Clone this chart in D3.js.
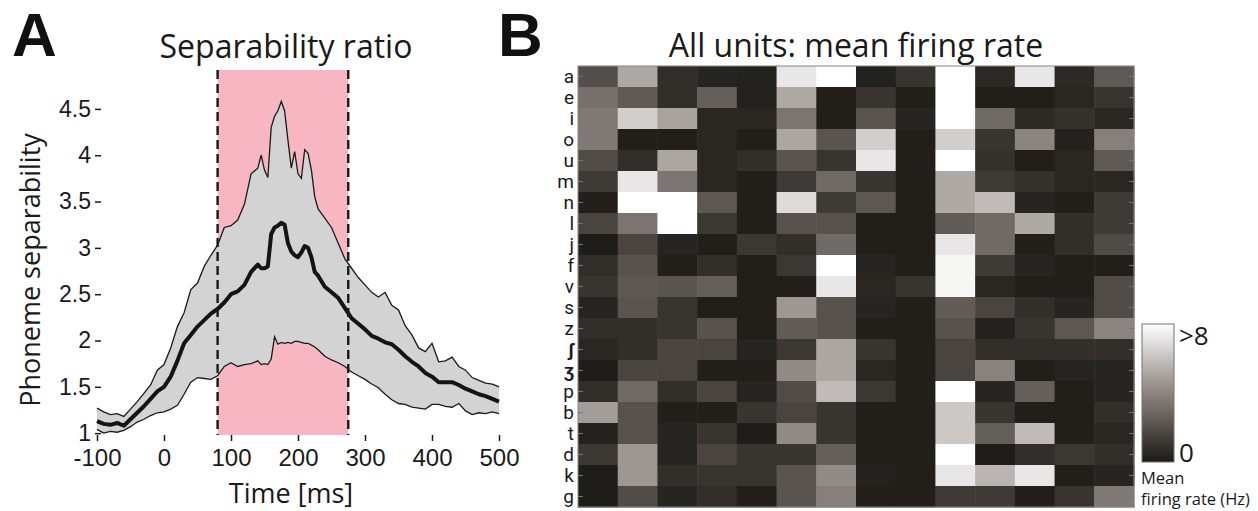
<!DOCTYPE html>
<html>
<head>
<meta charset="utf-8">
<script src="https://cdn.jsdelivr.net/npm/d3@7"></script>
<style>
  body { margin: 0; background: #fff; }
  svg { display: block; font-family: "Open Sans", sans-serif; }
  .axis text { fill: #1a1a1a; }
  .axis line { stroke: #1a1a1a; }
</style>
</head>
<body>
<div id="chart"></div>
<script>
// panel A: separability ratio over time
const times = [-100, -90, -80, -70, -60, -50, -40, -30, -20, -10, 0, 10, 20, 30, 40, 50, 60, 70, 80, 90,
  100, 110, 120, 130, 140, 145, 150, 155, 160, 165, 170, 175, 180, 185, 190, 195, 200, 205, 210, 215,
  220, 225, 230, 240, 250, 260, 270, 280, 290, 300, 310, 320, 330, 340, 350, 360, 370, 380, 390, 400,
  410, 420, 430, 440, 450, 460, 470, 480, 490, 500];
const upper = [1.27, 1.23, 1.20, 1.21, 1.18, 1.26, 1.34, 1.43, 1.52, 1.68, 1.74, 1.92, 2.15, 2.30, 2.55, 2.62, 2.80, 2.92, 3.03, 3.22,
  3.24, 3.30, 3.47, 3.80, 3.86, 4.00, 3.84, 3.76, 4.30, 4.42, 4.48, 4.58, 4.48, 4.16, 3.86, 4.04, 3.80, 3.75, 4.06, 4.02,
  3.84, 3.55, 3.42, 3.32, 3.22, 3.05, 2.88, 2.78, 2.68, 2.60, 2.52, 2.47, 2.52, 2.38, 2.33, 2.16, 2.06, 1.92, 1.88, 1.97,
  1.77, 1.78, 1.82, 1.72, 1.68, 1.60, 1.57, 1.54, 1.53, 1.50];
const meanSep = [1.13, 1.10, 1.09, 1.11, 1.08, 1.15, 1.22, 1.29, 1.37, 1.45, 1.50, 1.61, 1.78, 1.97, 2.06, 2.15, 2.22, 2.29, 2.34, 2.41,
  2.50, 2.53, 2.60, 2.74, 2.82, 2.78, 2.78, 2.80, 3.15, 3.22, 3.24, 3.27, 3.25, 3.05, 2.96, 2.92, 2.90, 2.95, 3.02, 3.00,
  2.90, 2.74, 2.70, 2.58, 2.52, 2.46, 2.35, 2.24, 2.18, 2.12, 2.05, 2.02, 1.98, 1.96, 1.90, 1.83, 1.77, 1.72, 1.65, 1.61,
  1.55, 1.55, 1.55, 1.52, 1.48, 1.45, 1.42, 1.40, 1.37, 1.34];
const lower = [1.04, 1.00, 1.02, 1.01, 1.03, 1.07, 1.12, 1.15, 1.19, 1.22, 1.23, 1.26, 1.30, 1.42, 1.55, 1.60, 1.59, 1.58, 1.62, 1.72,
  1.76, 1.72, 1.74, 1.75, 1.78, 1.74, 1.75, 1.74, 1.80, 2.04, 1.96, 1.98, 1.97, 1.98, 1.97, 1.99, 1.99, 1.98, 1.97, 1.97,
  1.95, 1.93, 1.90, 1.83, 1.79, 1.76, 1.72, 1.66, 1.62, 1.58, 1.53, 1.49, 1.42, 1.36, 1.32, 1.31, 1.28, 1.27, 1.26, 1.31,
  1.31, 1.29, 1.28, 1.32, 1.24, 1.20, 1.22, 1.21, 1.23, 1.21];
const window_ms = [80, 275];
const xTicks = [-100, 0, 100, 200, 300, 400, 500];
const yTicks = [1, 1.5, 2, 2.5, 3, 3.5, 4, 4.5];

// panel B: mean firing rate (Hz) per phoneme x unit
const phonemes = ["a", "e", "i", "o", "u", "m", "n", "l", "j", "f", "v", "s", "z", "ʃ", "ʒ", "p", "b", "t", "d", "k", "g"];
const units = d3.range(1, 15);
const rates = [
  [2.0, 5.2, 0.8, 0.4, 0.3, 7.2, 8.6, 0.3, 1.0, 9.1, 0.6, 7.2, 0.6, 2.4],
  [3.2, 2.4, 0.8, 2.6, 0.3, 5.2, 0.2, 1.0, 0.2, 9.4, 0.2, 0.2, 0.5, 1.0],
  [3.6, 6.4, 5.0, 0.5, 0.5, 3.4, 0.2, 2.2, 0.4, 8.8, 3.0, 0.6, 0.9, 0.5],
  [3.6, 0.2, 0.2, 0.5, 0.2, 5.1, 2.2, 6.4, 0.2, 6.4, 1.0, 4.0, 0.3, 3.8],
  [1.9, 0.8, 5.1, 0.5, 0.8, 2.2, 1.0, 7.2, 0.2, 8.7, 0.9, 0.2, 0.5, 2.4],
  [1.2, 7.2, 3.4, 0.5, 0.2, 1.2, 3.0, 1.0, 0.2, 5.2, 1.2, 0.9, 0.5, 0.5],
  [0.2, 9.0, 8.8, 2.3, 0.2, 6.8, 1.2, 2.3, 0.2, 5.2, 5.8, 0.4, 0.2, 1.2],
  [1.6, 3.4, 8.9, 1.1, 0.2, 2.1, 2.1, 0.2, 0.2, 2.5, 3.0, 5.2, 0.8, 1.2],
  [0.1, 1.6, 0.4, 0.2, 1.1, 0.8, 3.0, 0.2, 0.2, 7.2, 3.0, 0.2, 0.8, 1.8],
  [0.8, 2.1, 0.2, 0.8, 0.2, 1.1, 8.5, 0.4, 0.2, 7.7, 1.2, 0.4, 0.2, 0.2],
  [1.0, 2.3, 2.2, 2.6, 0.2, 0.2, 7.2, 0.5, 1.0, 7.7, 0.5, 0.2, 0.2, 1.9],
  [0.4, 2.2, 1.0, 0.2, 0.2, 4.6, 2.1, 0.4, 0.2, 2.5, 1.6, 0.8, 0.4, 1.9],
  [0.8, 0.8, 1.0, 2.1, 0.2, 2.5, 2.1, 0.2, 0.2, 2.1, 0.3, 1.0, 2.3, 4.0],
  [0.5, 0.8, 1.6, 1.6, 0.4, 1.1, 5.1, 1.0, 0.2, 1.6, 0.8, 0.8, 0.8, 0.8],
  [0.1, 1.6, 1.6, 0.2, 0.2, 4.2, 5.1, 0.5, 0.2, 1.6, 3.9, 0.2, 0.4, 0.4],
  [0.8, 3.0, 0.8, 1.6, 0.4, 1.9, 5.8, 1.1, 0.2, 8.8, 0.4, 2.6, 0.2, 0.4],
  [4.8, 2.1, 0.2, 0.2, 1.0, 1.6, 1.0, 0.2, 0.2, 6.2, 1.0, 0.2, 0.2, 0.8],
  [0.3, 2.1, 0.4, 1.0, 0.1, 4.2, 1.0, 0.2, 0.2, 6.2, 2.6, 5.8, 0.2, 0.5],
  [1.1, 4.6, 0.4, 1.6, 1.0, 1.0, 2.6, 0.2, 0.2, 8.9, 0.1, 0.8, 1.1, 0.8],
  [0.1, 4.6, 0.8, 1.0, 1.0, 2.2, 4.2, 0.3, 0.2, 7.2, 5.6, 7.2, 0.2, 0.4],
  [0.1, 1.9, 0.4, 0.8, 0.2, 2.2, 3.8, 0.2, 0.2, 1.2, 1.2, 0.2, 1.0, 3.6]
];
const rateMax = 8;

const W = 1258, H = 511;
const svg = d3.select("#chart").append("svg")
    .attr("width", W)
    .attr("height", H);

/**
 * Panel A
 */
const xScale = d3.scaleLinear().domain([-100, 500]).range([97, 499]);
const yScale = d3.scaleLinear().domain([0.98, 4.92]).range([435, 70]);

const series = times.map((t, i) => ({t: t, hi: upper[i], mid: meanSep[i], lo: lower[i]}));

const gA = svg.append("g");

gA.append("rect")
    .attr("x", xScale(window_ms[0]))
    .attr("y", yScale(4.92))
    .attr("width", xScale(window_ms[1]) - xScale(window_ms[0]))
    .attr("height", yScale(0.98) - yScale(4.92))
    .attr("fill", "#f8b6c3");

const area = d3.area()
    .x(d => xScale(d.t))
    .y0(d => yScale(d.lo))
    .y1(d => yScale(d.hi));

gA.append("path")
    .datum(series)
    .attr("d", area)
    .attr("fill", "#d3d3d3");

const lineOf = key => d3.line().x(d => xScale(d.t)).y(d => yScale(d[key]));

gA.append("path").datum(series).attr("d", lineOf("hi"))
    .attr("fill", "none").attr("stroke", "#1a1a1a").attr("stroke-width", 1.3);
gA.append("path").datum(series).attr("d", lineOf("lo"))
    .attr("fill", "none").attr("stroke", "#1a1a1a").attr("stroke-width", 1.3);
gA.append("path").datum(series).attr("d", lineOf("mid"))
    .attr("fill", "none").attr("stroke", "#141414").attr("stroke-width", 4)
    .attr("stroke-linejoin", "round");

gA.selectAll("line.win")
    .data(window_ms)
    .enter()
    .append("line")
    .attr("class", "win")
    .attr("x1", d => xScale(d)).attr("x2", d => xScale(d))
    .attr("y1", yScale(4.92)).attr("y2", yScale(0.98))
    .attr("stroke", "#1a1a1a")
    .attr("stroke-width", 2.4)
    .attr("stroke-dasharray", "9,5");

const xAxis = gA.append("g")
    .attr("class", "axis")
    .attr("transform", `translate(0,435)`)
    .call(d3.axisBottom(xScale).tickValues(xTicks).tickFormat(d => String(d))
        .tickSizeInner(6).tickSizeOuter(0).tickPadding(8))
    .call(g => g.select(".domain").remove());
xAxis.selectAll("text").attr("font-size", 24);
xAxis.selectAll("line").attr("stroke-width", 1.5);

const yAxis = gA.append("g")
    .attr("class", "axis")
    .attr("transform", `translate(95,0)`)
    .call(d3.axisLeft(yScale).tickValues(yTicks).tickFormat(d => String(d))
        .tickSizeInner(-6).tickSizeOuter(0).tickPadding(4))
    .call(g => g.select(".domain").remove());
yAxis.selectAll("text").attr("font-size", 23);
yAxis.selectAll("line").attr("stroke-width", 1.5);

gA.append("text")
    .attr("x", 286).attr("y", 58)
    .attr("text-anchor", "middle")
    .attr("font-size", 32)
    .attr("fill", "#1a1a1a")
    .text("Separability ratio");

gA.append("text")
    .attr("x", 291).attr("y", 503)
    .attr("text-anchor", "middle")
    .attr("font-size", 27)
    .attr("fill", "#1a1a1a")
    .text("Time [ms]");

gA.append("text")
    .attr("transform", "translate(40,270) rotate(-90)")
    .attr("text-anchor", "middle")
    .attr("font-size", 27)
    .attr("fill", "#1a1a1a")
    .text("Phoneme separability");

gA.append("text")
    .attr("x", 12).attr("y", 56)
    .attr("font-family", "'Liberation Sans', Arial, sans-serif")
    .attr("font-size", 62)
    .attr("font-weight", "bold")
    .attr("fill", "#111")
    .text("A");

/**
 * Panel B
 */
const colour = d3.scaleLinear()
    .domain([0, rateMax / 2, rateMax])
    .range(["#1c1a16", "#8c8480", "#ffffff"])
    .clamp(true);

const xBand = d3.scaleBand().domain(units).range([578, 1134]);
const yBand = d3.scaleBand().domain(phonemes).range([66, 507]);

const cells = [];
phonemes.forEach((p, r) => units.forEach((u, c) => cells.push({p: p, u: u, v: rates[r][c]})));

const gB = svg.append("g");

gB.selectAll("rect.cell")
    .data(cells)
    .enter()
    .append("rect")
    .attr("class", "cell")
    .attr("x", d => xBand(d.u))
    .attr("y", d => yBand(d.p))
    .attr("width", xBand.bandwidth() + 0.5)
    .attr("height", yBand.bandwidth() + 0.5)
    .attr("fill", d => colour(d.v));

gB.append("rect")
    .attr("x", 578).attr("y", 66)
    .attr("width", 556).attr("height", 441)
    .attr("fill", "none")
    .attr("stroke", "#8a8580")
    .attr("stroke-width", 1);

// small row ticks, both sides
gB.selectAll("line.rt")
    .data(phonemes.flatMap(p => [[p, 578, 583], [p, 1129, 1134]]))
    .enter()
    .append("line")
    .attr("class", "rt")
    .attr("x1", d => d[1]).attr("x2", d => d[2])
    .attr("y1", d => yBand(d[0]) + yBand.bandwidth() / 2)
    .attr("y2", d => yBand(d[0]) + yBand.bandwidth() / 2)
    .attr("stroke", "#7a7470")
    .attr("stroke-width", 1);

gB.selectAll("text.row")
    .data(phonemes)
    .enter()
    .append("text")
    .attr("class", "row")
    .attr("x", 574)
    .attr("y", d => yBand(d) + yBand.bandwidth() / 2)
    .attr("dy", "0.36em")
    .attr("text-anchor", "end")
    .attr("font-family", "Roboto, sans-serif")
    .attr("font-size", 19)
    .attr("font-weight", d => (d === "ʃ" || d === "ʒ") ? "bold" : "normal")
    .attr("fill", "#1a1a1a")
    .text(d => d);

gB.append("text")
    .attr("x", 856).attr("y", 57)
    .attr("text-anchor", "middle")
    .attr("font-size", 32)
    .attr("fill", "#1a1a1a")
    .text("All units: mean firing rate");

gB.append("text")
    .attr("x", 498).attr("y", 56)
    .attr("font-family", "'Liberation Sans', Arial, sans-serif")
    .attr("font-size", 62)
    .attr("font-weight", "bold")
    .attr("fill", "#111")
    .text("B");

// colour bar
const defs = svg.append("defs");
const grad = defs.append("linearGradient")
    .attr("id", "cbar")
    .attr("x1", 0).attr("y1", 1).attr("x2", 0).attr("y2", 0);
grad.selectAll("stop")
    .data(d3.range(0, 1.01, 0.1))
    .enter()
    .append("stop")
    .attr("offset", d => d)
    .attr("stop-color", d => colour(d * rateMax));

const cbY = d3.scaleLinear().domain([0, rateMax]).range([462, 324]);

gB.append("rect")
    .attr("x", 1142).attr("y", cbY(rateMax))
    .attr("width", 32).attr("height", cbY(0) - cbY(rateMax))
    .attr("fill", "url(#cbar)")
    .attr("stroke", "#77716d")
    .attr("stroke-width", 1);

gB.append("text")
    .attr("x", 1179).attr("y", cbY(rateMax) + 21)
    .attr("font-size", 26)
    .attr("fill", "#1a1a1a")
    .text(">" + rateMax);

gB.append("text")
    .attr("x", 1179).attr("y", cbY(0))
    .attr("font-size", 26)
    .attr("fill", "#1a1a1a")
    .text("0");

gB.append("text")
    .attr("x", 1141).attr("y", 484)
    .attr("font-size", 16.5)
    .attr("fill", "#1a1a1a")
    .text("Mean");

gB.append("text")
    .attr("x", 1141).attr("y", 505)
    .attr("font-size", 16.5)
    .attr("fill", "#1a1a1a")
    .text("firing rate (Hz)");
</script>
</body>
</html>
